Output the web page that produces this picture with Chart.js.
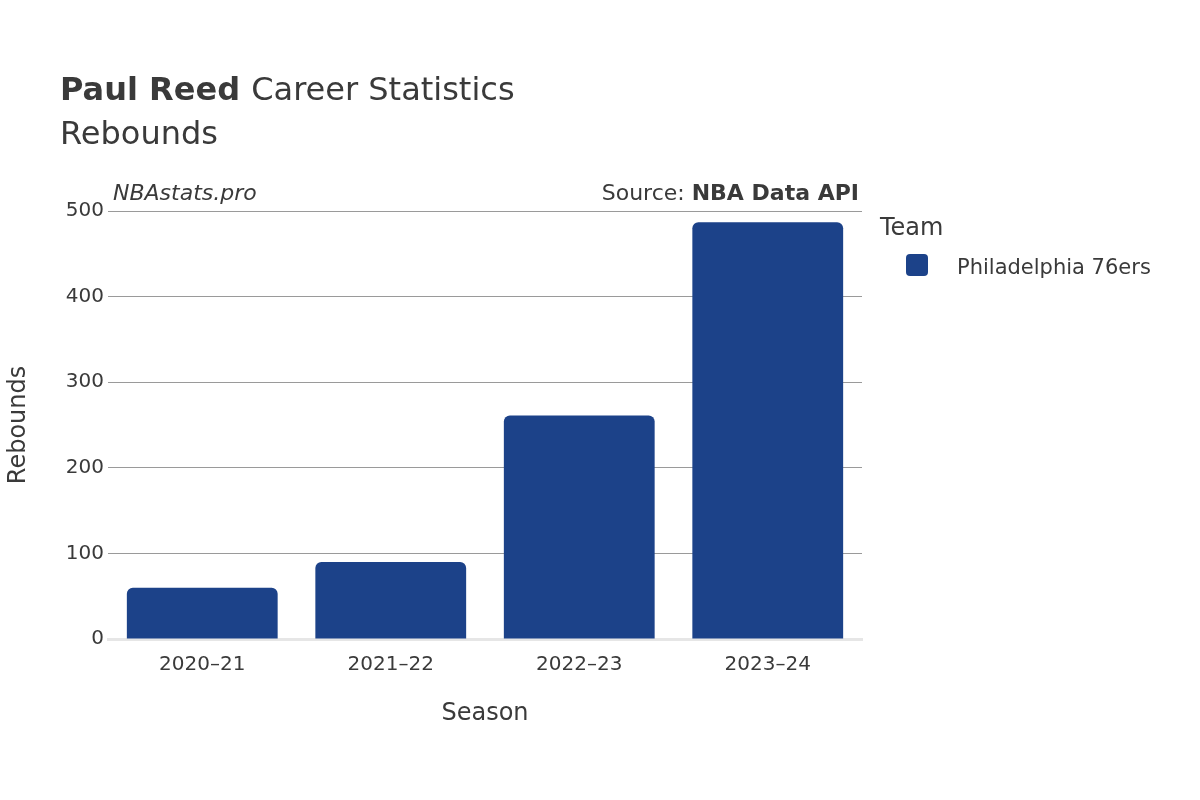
<!DOCTYPE html>
<html>
<head>
<meta charset="utf-8">
<script src="https://cdn.jsdelivr.net/npm/chart.js@4"></script>
<style>
  html, body { margin: 0; padding: 0; background: #fff; }
  #wrap { width: 1200px; height: 800px; }
</style>
</head>
<body>
<div id="wrap"><canvas id="c" width="1200" height="800"></canvas></div>
<script>
// data
const seasons = ['2020–21', '2021–22', '2022–23', '2023–24'];
const rebounds = [60, 90, 261, 487];
const yTicks = [0, 100, 200, 300, 400, 500];
const teamName = 'Philadelphia 76ers';
const barColor = '#1c4289';

const FONT = '"DejaVu Sans", sans-serif';
const TXT = '#3a3a3a';

// text around the plot: title, watermark, axis titles, legend
const decor = {
  id: 'decor',
  afterDraw(chart) {
    const ctx = chart.ctx;
    const a = chart.chartArea;
    ctx.save();
    ctx.fillStyle = TXT;
    ctx.textBaseline = 'alphabetic';
    ctx.textAlign = 'left';
    ctx.font = 'bold 32px ' + FONT;
    ctx.fillText('Paul Reed', 60, 100);
    const w = ctx.measureText('Paul Reed ').width;
    ctx.font = '32px ' + FONT;
    ctx.fillText('Career Statistics', 60 + w, 100);
    ctx.fillText('Rebounds', 60, 144);

    ctx.font = 'italic 22px ' + FONT;
    ctx.fillText('NBAstats.pro', 113, 200);
    ctx.textAlign = 'right';
    ctx.font = 'bold 22px ' + FONT;
    ctx.fillText('NBA Data API', a.right - 3, 200);
    const bw = ctx.measureText('NBA Data API').width;
    ctx.font = '22px ' + FONT;
    ctx.fillText('Source: ', a.right - 3 - bw, 200);

    // axis titles
    ctx.textAlign = 'center';
    ctx.font = '24px ' + FONT;
    ctx.fillText('Season', (a.left + a.right) / 2, 720);
    ctx.save();
    ctx.translate(25, (a.top + a.bottom) / 2);
    ctx.rotate(-Math.PI / 2);
    ctx.fillText('Rebounds', 0, 0);
    ctx.restore();

    // legend
    ctx.textAlign = 'left';
    ctx.font = '24px ' + FONT;
    ctx.fillText('Team', 880, 235);
    ctx.fillStyle = barColor;
    ctx.beginPath();
    ctx.roundRect(906, 254, 22, 22, 4);
    ctx.fill();
    ctx.fillStyle = TXT;
    ctx.font = '21px ' + FONT;
    ctx.fillText(teamName, 957, 274);
    ctx.restore();
  }
};

new Chart(document.getElementById('c'), {
  type: 'bar',
  data: {
    labels: seasons,
    datasets: [{
      label: teamName,
      data: rebounds,
      backgroundColor: barColor,
      borderRadius: { topLeft: 6, topRight: 6 },
      borderSkipped: 'bottom',
      categoryPercentage: 0.8,
      barPercentage: 1
    }]
  },
  options: {
    responsive: false,
    animation: false,
    layout: { padding: { top: 211, right: 338, left: 0, bottom: 0 } },
    plugins: { legend: { display: false }, tooltip: { enabled: false } },
    scales: {
      x: {
        grid: { display: false },
        border: { color: '#e6e6e6', width: 3 },
        ticks: { color: TXT, font: { family: FONT, size: 20 }, padding: 6 },
        afterFit: s => { s.height = 161; }
      },
      y: {
        min: 0, max: 500,
        afterBuildTicks: s => { s.ticks = yTicks.map(v => ({ value: v })); },
        grid: { color: '#9a9a9a', lineWidth: 1, drawTicks: false },
        border: { display: false },
        ticks: { color: TXT, font: { family: FONT, size: 20 }, padding: 4 },
        afterFit: s => { s.width = 108; }
      }
    }
  },
  plugins: [decor]
});
</script>
</body>
</html>
